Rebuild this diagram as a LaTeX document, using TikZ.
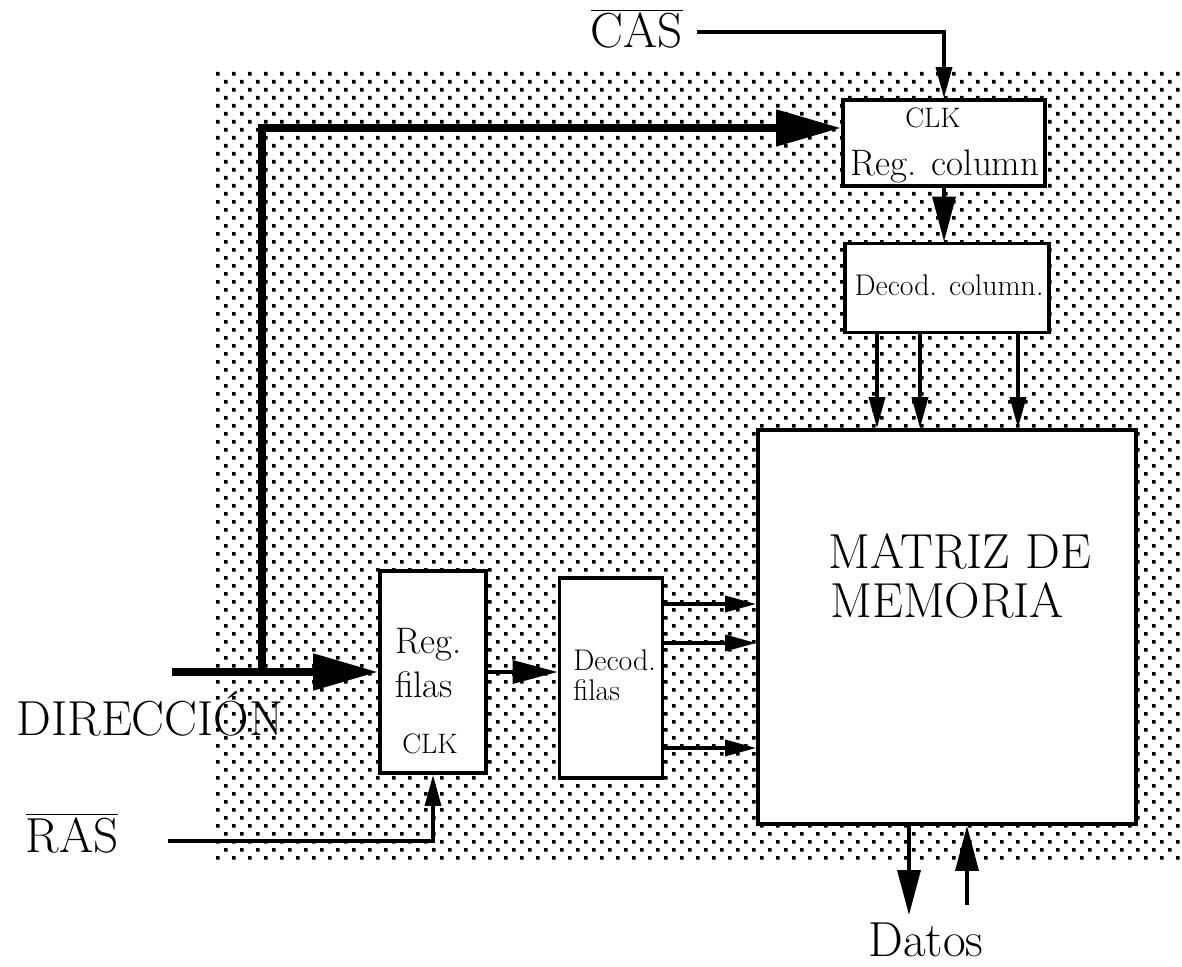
\documentclass[tikz,border=0pt]{standalone}
\usepackage{fontspec}
\usetikzlibrary{arrows.meta, positioning, calc}
\tikzset{
    block/.style={rectangle, draw=black, line width=2.2pt, fill=white, inner sep=0pt},
    sig/.style={line width=2pt, -{Triangle[length=0.62cm, width=0.32cm]}},
    wide/.style={line width=2pt, -{Triangle[length=0.9cm, width=0.46cm]}},
    bus/.style={line width=4.6pt, line join=miter, -{Triangle[length=1.3cm, width=0.7cm]}},
    txt/.style={anchor=base, inner sep=0pt},
    big/.style={txt, font=\fontsize{28}{32}\selectfont},
    mid/.style={txt, font=\fontsize{21}{24}\selectfont},
    small/.style={txt, font=\fontsize{17}{20}\selectfont},
    clk/.style={txt, font=\fontsize{16}{19}\selectfont}
}
\begin{document}
\begin{tikzpicture}[x=0.02cm, y=-0.02cm]
        \useasboundingbox (0,0) rectangle (1182,966);
        % dotted chip area
        \fill \foreach \j [evaluate=\j as \off using {8*mod(\j,2)}] in {0,...,98} {
            \foreach \i in {0,...,60} { ({216+16*\i+\off},{72+8*\j}) rectangle ++(3.7,3.7) }
        };

        % Blocks
        \node (regcol) [block, minimum width=4.04cm, minimum height=1.72cm] at (944,143) {};
        \node (deccol) [block, minimum width=4.08cm, minimum height=1.78cm] at (947,288) {};
        \node (matriz) [block, minimum width=7.56cm, minimum height=7.88cm] at (947,627) {};
        \node (regfil) [block, minimum width=2.12cm, minimum height=4.04cm] at (433,672) {};
        \node (decfil) [block, minimum width=2.06cm, minimum height=4.0cm] at (611,678) {};

        % Texts
        \node (regcolclk) [clk] at (933,128) {CLK};
        \node (regcoltxt) [mid] at (945,175) {Reg. column};
        \node (deccoltxt) [small] at (949,295) {Decod. column.};
        \node (matriztxt) [big, anchor=base west] at (828,568) {MATRIZ DE};
        \node (memtxt) [big, anchor=base west] at (830,617) {MEMORIA};
        \node (regfiltxt) [mid, anchor=base west] at (395,653) {Reg.};
        \node (filtxt) [mid, anchor=base west] at (395,697) {filas};
        \node (regfilclk) [clk] at (430,753) {CLK};
        \node (decfiltxt) [small, anchor=base west] at (573,670) {Decod.};
        \node (decfiltxtb) [small, anchor=base west] at (573,700) {filas};
        \node (dirtxt) [big] at (150,735) {DIRECCIÓN};
        \node (castxt) [big] at (637,48) {$\overline{\mbox{CAS}}$};
        \node (rastxt) [big] at (72,852) {$\overline{\mbox{RAS}}$};
        \node (datostxt) [big] at (926,956) {Datos};

        % Free ends
        \coordinate (dirin) at (172,672);
        \coordinate (busjoin) at (262,672);
        \coordinate (casin) at (697,32);
        \coordinate (rasin) at (168,841);
        \coordinate (dout) at (909,915);
        \coordinate (din) at (967,905);

        % Connections
        \draw [bus] (dirin) -- (regfil.west);
        \draw [bus] (busjoin) |- ([yshift=0.3cm]regcol.west);
        \draw [sig] (casin) -| (regcol.north);
        \draw [sig] (rasin) -| (regfil.south);
        \draw [wide] (regcol.south) -- (regcol.south |- deccol.north);
        \draw [wide] (regfil.east) -- (regfil.east -| decfil.west);
        \foreach \y in {604,643,748}
            \draw [sig] (decfil.east |- 0,\y) -- (matriz.west |- 0,\y);
        \foreach \x in {877,920,1018}
            \draw [sig] (deccol.south -| \x,0) -- (matriz.north -| \x,0);
        \draw [wide] (matriz.south -| dout) -- (dout);
        \draw [wide] (din) -- (din |- matriz.south);
    \end{tikzpicture}
\end{document}
